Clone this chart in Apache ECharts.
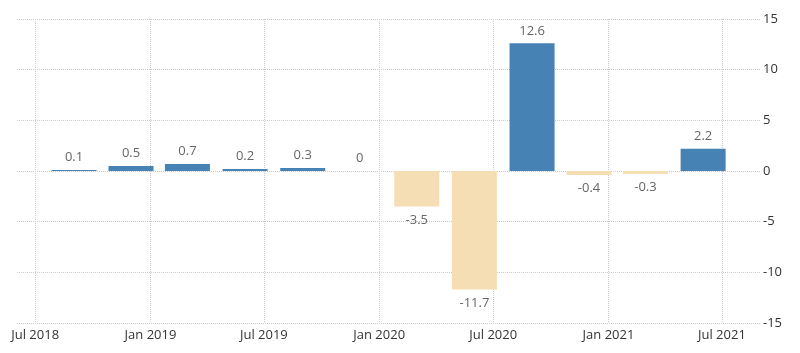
<!DOCTYPE html>
<html>
<head>
<meta charset="utf-8">
<script src="https://cdn.jsdelivr.net/npm/echarts@6/dist/echarts.min.js"></script>
<style>
  html, body { margin: 0; padding: 0; background: #fff; }
  #chart { width: 800px; height: 353px; }
</style>
</head>
<body>
<div id="chart"></div>
<script>
// quarterly values, plotted at the first day of each quarter's last month
var barDates = ['2018-09-01', '2018-12-01', '2019-03-01', '2019-06-01', '2019-09-01', '2019-12-01',
    '2020-03-01', '2020-06-01', '2020-09-01', '2020-12-01', '2021-03-01', '2021-06-01'];
var barValues = [0.1, 0.5, 0.7, 0.2, 0.3, 0, -3.5, -11.7, 12.6, -0.4, -0.3, 2.2];
var tickDates = ['2018-07-01', '2019-01-01', '2019-07-01', '2020-01-01', '2020-07-01', '2021-01-01', '2021-07-01'];
var monthNames = ['Jan', 'Feb', 'Mar', 'Apr', 'May', 'Jun', 'Jul', 'Aug', 'Sep', 'Oct', 'Nov', 'Dec'];

var POS = '#4682b4', NEG = '#f5deb3';

function ts(s) {
    var p = s.split('-');
    return Date.UTC(+p[0], +p[1] - 1, +p[2]);
}

var tickValues = tickDates.map(ts);

var data = barDates.map(function (d, i) {
    var v = barValues[i];
    return {
        value: [ts(d), v],
        itemStyle: { color: v < 0 ? NEG : POS },
        label: { position: v < 0 ? 'bottom' : 'top', distance: v < 0 ? 7 : 6 }
    };
});

var chart = echarts.init(document.getElementById('chart'));
chart.setOption({
    animation: false,
    grid: { left: 17, right: 43, top: 19, bottom: 30 },
    xAxis: {
        type: 'value',
        min: ts('2018-06-02'),
        max: ts('2021-08-26'),
        axisLine: { show: false },
        axisTick: { show: true, customValues: tickValues, length: 4, lineStyle: { color: '#ccc', type: 'dotted' } },
        axisLabel: {
            customValues: tickValues,
            color: '#333',
            fontSize: 13,
            fontFamily: 'Open Sans',
            margin: 6,
            formatter: function (val) {
                var d = new Date(val);
                return monthNames[d.getUTCMonth()] + ' ' + d.getUTCFullYear();
            }
        },
        splitLine: { show: true, lineStyle: { color: '#ccc', type: 'dotted' } }
    },
    yAxis: {
        type: 'value',
        position: 'right',
        min: -15,
        max: 15,
        interval: 5,
        axisLine: { show: false },
        axisTick: { show: true, length: 4, lineStyle: { color: '#ccc', type: 'dotted' } },
        axisLabel: { color: '#333', fontSize: 13, fontFamily: 'Open Sans', margin: 6 },
        splitLine: { show: true, lineStyle: { color: '#ccc', type: 'dotted' } }
    },
    series: [{
        type: 'bar',
        barWidth: 45,
        data: data,
        label: {
            show: true,
            color: '#666',
            fontSize: 13,
            fontFamily: 'Open Sans',
            formatter: function (p) { return String(p.value[1]); }
        }
    }]
});
</script>
</body>
</html>
